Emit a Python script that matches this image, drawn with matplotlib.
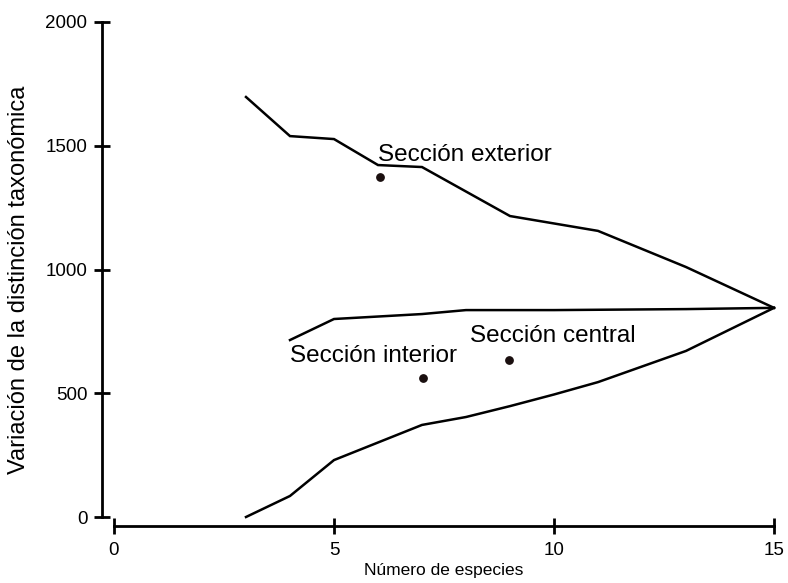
import matplotlib
matplotlib.use("Agg")
import matplotlib.pyplot as plt

plt.rcParams['font.family'] = ['Liberation Sans', 'DejaVu Sans']

# exterior section (upper curve)
ext_x = [3, 4, 5, 6, 7, 9, 11, 13, 15]
ext_y = [1697, 1539, 1527, 1422, 1414, 1216, 1156, 1010, 845]

# central section (middle curve)
cen_x = [4, 5, 7, 8, 10, 13, 15]
cen_y = [715, 800, 820, 836, 836, 840, 845]

# interior section (lower curve)
int_x = [3, 4, 5, 7, 8, 9, 10, 11, 13, 15]
int_y = [0, 85, 230, 372, 404, 448, 495, 545, 671, 845]

# observed points
dots_x = [6.05, 7.02, 8.98]
dots_y = [1374, 562, 634]

labels = ['Sección exterior', 'Sección interior', 'Sección central']
label_x = [6.0, 4.0, 8.1]
label_y = [1438, 626, 707]

fig = plt.figure(figsize=(7.88, 5.83), dpi=100)
ax = fig.add_axes([114 / 788, 1 - 517 / 583, 660 / 788, 495 / 583])

for xs, ys in [(ext_x, ext_y), (cen_x, cen_y), (int_x, int_y)]:
    ax.plot(xs, ys, color='black', lw=1.8, clip_on=False, solid_joinstyle='miter')

ax.scatter(dots_x, dots_y, s=28, color='#1a0f0f', zorder=3, clip_on=False)

for t, x, y in zip(labels, label_x, label_y):
    ax.text(x, y, t, fontsize=17.5, ha='left', va='baseline')

ax.set_xlim(0, 15)
ax.set_ylim(0, 2000)
ax.set_xticks([0, 5, 10, 15])
ax.set_yticks([0, 500, 1000, 1500, 2000])

for s in ['top', 'right']:
    ax.spines[s].set_visible(False)
ax.spines['left'].set_position(('outward', 8.6))
ax.spines['bottom'].set_position(('outward', 6.5))
ax.spines['left'].set_linewidth(2)
ax.spines['bottom'].set_linewidth(2)
ax.spines['left'].set_bounds(0, 2000)
ax.spines['bottom'].set_bounds(0, 15)

ax.tick_params(axis='both', direction='inout', length=11, width=2, labelsize=13.5)
ax.tick_params(axis='y', pad=5)
ax.tick_params(axis='x', pad=6)

ax.set_xlabel('Número de especies', fontsize=12.5, labelpad=3)
ax.set_ylabel('Variación de la distinción taxonómica', fontsize=17)
ax.yaxis.set_label_coords(-0.128, 0.48)

fig.savefig('out.png', dpi=100)
